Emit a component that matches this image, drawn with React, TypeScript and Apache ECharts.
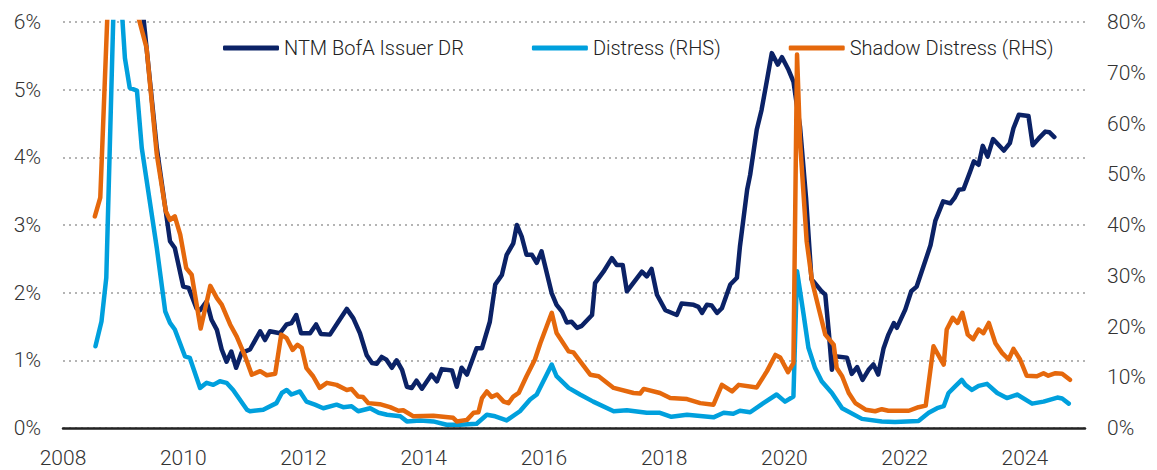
import React, { useEffect, useRef } from "react";
import * as echarts from "echarts";

// ---- Data (decimal year, value) ----
const xTickLabels = [2008, 2010, 2012, 2014, 2016, 2018, 2020, 2022, 2024];

const issuerYears = [
  2009.0, 2009.56, 2009.71, 2009.78, 2009.86, 2010.0, 2010.09, 2010.22, 2010.28, 2010.39, 2010.47, 2010.56,
  2010.64, 2010.72, 2010.8, 2010.88, 2010.97, 2011.11, 2011.28, 2011.36, 2011.44, 2011.61, 2011.72, 2011.8,
  2011.88, 2011.96, 2012.11, 2012.21, 2012.29, 2012.44, 2012.58, 2012.72, 2012.83, 2012.94, 2013.05, 2013.14,
  2013.22, 2013.3, 2013.38, 2013.47, 2013.55, 2013.64, 2013.72, 2013.8, 2013.88, 2013.97, 2014.13, 2014.22,
  2014.3, 2014.47, 2014.55, 2014.63, 2014.72, 2014.88, 2014.97, 2015.1, 2015.19, 2015.3, 2015.38, 2015.49,
  2015.55, 2015.63, 2015.71, 2015.8, 2015.88, 2015.96, 2016.13, 2016.21, 2016.3, 2016.38, 2016.46, 2016.55,
  2016.63, 2016.8, 2016.85, 2016.99, 2017.13, 2017.21, 2017.31, 2017.38, 2017.63, 2017.71, 2017.79, 2017.88,
  2018.02, 2018.21, 2018.29, 2018.49, 2018.57, 2018.63, 2018.71, 2018.79, 2018.88, 2018.96, 2019.1, 2019.21,
  2019.26, 2019.38, 2019.43, 2019.54, 2019.62, 2019.71, 2019.79, 2019.89, 2019.96, 2020.07, 2020.15, 2020.26,
  2020.36, 2020.45, 2020.48, 2020.62, 2020.68, 2020.74, 2020.79, 2020.84, 2021.04, 2021.12, 2021.21, 2021.3,
  2021.4, 2021.48, 2021.56, 2021.65, 2021.73, 2021.82, 2021.87, 2022.01, 2022.11, 2022.2, 2022.34, 2022.43,
  2022.51, 2022.64, 2022.76, 2022.83, 2022.9, 2022.98, 2023.09, 2023.15, 2023.23, 2023.3, 2023.38, 2023.47,
  2023.65, 2023.75, 2023.81, 2023.9, 2024.06, 2024.13, 2024.23, 2024.34, 2024.41, 2024.49,
];
const issuerValues = [
  9.0, 4.14, 3.2, 2.76, 2.66, 2.09, 2.07, 1.77, 1.74, 1.87, 1.6, 1.45,
  1.16, 0.98, 1.13, 0.89, 1.11, 1.16, 1.43, 1.3, 1.43, 1.4, 1.53, 1.55,
  1.67, 1.4, 1.4, 1.53, 1.39, 1.38, 1.57, 1.76, 1.62, 1.4, 1.08, 0.96,
  0.95, 1.05, 1.01, 0.89, 1.0, 0.86, 0.61, 0.59, 0.7, 0.58, 0.79, 0.69,
  0.87, 0.85, 0.61, 0.89, 0.79, 1.18, 1.18, 1.57, 2.12, 2.26, 2.56, 2.73,
  3.0, 2.83, 2.56, 2.56, 2.44, 2.61, 1.99, 1.82, 1.72, 1.56, 1.57, 1.48,
  1.51, 1.67, 2.14, 2.31, 2.51, 2.41, 2.41, 2.02, 2.31, 2.24, 2.35, 1.97,
  1.74, 1.67, 1.84, 1.82, 1.79, 1.7, 1.82, 1.81, 1.7, 1.77, 2.12, 2.22,
  2.68, 3.52, 3.74, 4.41, 4.7, 5.14, 5.54, 5.37, 5.48, 5.29, 5.12, 4.45,
  3.4, 2.2, 2.17, 2.02, 1.97, 1.4, 0.86, 1.06, 1.04, 0.8, 0.9, 0.71,
  0.86, 0.94, 0.79, 1.18, 1.38, 1.55, 1.48, 1.75, 2.02, 2.09, 2.46, 2.7,
  3.06, 3.35, 3.32, 3.4, 3.52, 3.53, 3.79, 3.94, 3.89, 4.17, 4.01, 4.27,
  4.1, 4.21, 4.43, 4.63, 4.61, 4.18, 4.28, 4.38, 4.37, 4.3,
];

const distressYears = [
  2008.54, 2008.64, 2008.72, 2008.88, 2009.03, 2009.11, 2009.23, 2009.31, 2009.56, 2009.7, 2009.78, 2009.86,
  2010.03, 2010.11, 2010.28, 2010.39, 2010.5, 2010.61, 2010.72, 2010.83, 2011.06, 2011.11, 2011.33, 2011.55,
  2011.64, 2011.72, 2011.8, 2011.94, 2012.05, 2012.19, 2012.33, 2012.55, 2012.66, 2012.8, 2012.91, 2013.11,
  2013.25, 2013.39, 2013.61, 2013.72, 2013.94, 2014.16, 2014.38, 2014.6, 2014.88, 2015.05, 2015.19, 2015.38,
  2015.6, 2015.77, 2015.88, 2016.13, 2016.21, 2016.41, 2016.6, 2016.82, 2017.16, 2017.38, 2017.71, 2017.93,
  2018.12, 2018.38, 2018.82, 2018.99, 2019.15, 2019.26, 2019.43, 2019.65, 2019.87, 2020.01, 2020.15, 2020.21,
  2020.32, 2020.4, 2020.51, 2020.62, 2020.79, 2020.96, 2021.29, 2021.62, 2021.84, 2022.23, 2022.4, 2022.54,
  2022.65, 2022.73, 2022.84, 2022.95, 2023.01, 2023.12, 2023.23, 2023.37, 2023.54, 2023.7, 2023.87, 2024.12,
  2024.31, 2024.54, 2024.62, 2024.73,
];
const distressValues = [
  16.1, 21.0, 29.6, 100, 72.9, 67.0, 66.5, 55.2, 35.5, 23.0, 20.7, 19.4,
  14.1, 13.8, 7.9, 8.9, 8.5, 9.2, 8.9, 7.5, 3.6, 3.3, 3.6, 4.9,
  6.9, 7.5, 6.6, 7.2, 5.2, 4.6, 3.9, 4.6, 4.1, 4.3, 3.3, 3.9,
  3.0, 2.6, 2.3, 1.3, 1.5, 1.3, 0.65, 0.65, 0.85, 2.6, 2.3, 1.5,
  3.3, 5.6, 6.6, 12.5, 10.2, 7.9, 6.6, 5.2, 3.3, 3.5, 3.0, 3.0,
  2.2, 2.6, 2.1, 3.0, 2.8, 3.4, 3.1, 4.9, 6.6, 5.2, 6.2, 30.9,
  22.3, 15.8, 11.8, 9.2, 6.9, 3.9, 1.8, 1.3, 1.2, 1.4, 3.0, 3.9,
  4.3, 6.9, 8.2, 9.5, 8.5, 7.5, 8.3, 8.7, 6.9, 5.9, 6.6, 4.8,
  5.2, 6.0, 5.8, 4.8,
];

const shadowYears = [
  2008.53, 2008.62, 2008.8, 2009.05, 2009.39, 2009.56, 2009.71, 2009.78, 2009.86, 2009.95, 2010.05, 2010.14,
  2010.29, 2010.45, 2010.56, 2010.64, 2010.78, 2010.89, 2011.03, 2011.14, 2011.28, 2011.39, 2011.53, 2011.63,
  2011.72, 2011.82, 2011.9, 2011.97, 2012.05, 2012.16, 2012.27, 2012.39, 2012.55, 2012.72, 2012.8, 2012.91,
  2012.99, 2013.08, 2013.27, 2013.44, 2013.58, 2013.66, 2013.83, 2014.16, 2014.49, 2014.55, 2014.72, 2014.83,
  2014.91, 2014.97, 2015.05, 2015.13, 2015.22, 2015.33, 2015.41, 2015.49, 2015.58, 2015.71, 2015.85, 2015.94,
  2016.13, 2016.21, 2016.41, 2016.49, 2016.77, 2016.91, 2017.16, 2017.49, 2017.6, 2017.66, 2017.93, 2018.1,
  2018.38, 2018.6, 2018.82, 2018.96, 2019.13, 2019.24, 2019.54, 2019.71, 2019.85, 2019.93, 2020.06, 2020.15,
  2020.21, 2020.26, 2020.37, 2020.46, 2020.57, 2020.68, 2020.82, 2020.87, 2020.96, 2021.07, 2021.18, 2021.35,
  2021.51, 2021.62, 2021.73, 2022.07, 2022.23, 2022.35, 2022.48, 2022.54, 2022.65, 2022.7, 2022.8, 2022.88,
  2022.96, 2023.05, 2023.14, 2023.23, 2023.31, 2023.4, 2023.51, 2023.62, 2023.73, 2023.81, 2023.92, 2024.03,
  2024.2, 2024.31, 2024.39, 2024.51, 2024.62, 2024.75,
];
const shadowValues = [
  41.7, 45.4, 100, 90, 74.9, 53.9, 42.7, 41.0, 41.7, 38.1, 31.5, 30.2,
  19.6, 28.0, 25.6, 24.3, 20.4, 18.0, 14.1, 10.5, 11.2, 10.4, 10.7, 18.4,
  17.7, 15.4, 16.4, 15.8, 11.8, 10.2, 7.9, 8.9, 8.5, 7.5, 7.7, 6.2,
  6.1, 4.9, 4.7, 4.1, 3.4, 3.5, 2.3, 2.4, 2.0, 1.3, 1.6, 3.0,
  3.1, 5.9, 7.2, 6.1, 6.6, 5.2, 4.9, 6.2, 6.9, 10.2, 13.5, 16.7,
  22.7, 18.7, 15.1, 14.9, 10.5, 10.2, 7.9, 6.9, 6.8, 7.7, 6.9, 5.9,
  5.7, 4.9, 4.6, 8.5, 7.2, 8.5, 8.0, 11.2, 14.4, 13.9, 11.0, 12.8,
  73.6, 56.5, 36.8, 28.9, 23.6, 18.4, 16.4, 11.8, 10.2, 6.9, 4.9, 3.6,
  3.3, 3.7, 3.4, 3.4, 4.1, 4.4, 16.1, 14.8, 12.5, 19.4, 21.7, 20.7,
  22.7, 18.4, 17.5, 19.4, 18.7, 20.7, 16.7, 14.8, 13.5, 15.6, 13.5, 10.3,
  10.2, 10.8, 10.3, 10.8, 10.7, 9.5,
];

const seriesNames = ["NTM BofA Issuer DR", "Distress (RHS)", "Shadow Distress (RHS)"];
const seriesColors = ["#0b2266", "#00a0dd", "#e5680c"];

const zip = (xs: number[], ys: number[]) => xs.map((x, i) => [x, ys[i]]);

const FONT = "Roboto";

export default function App() {
  const ref = useRef<HTMLDivElement>(null);

  useEffect(() => {
    if (!ref.current) return;
    const chart = echarts.init(ref.current, undefined, { renderer: "svg" });
    const lineSeries = (idx: number, data: number[][], yAxisIndex: number) => ({
      name: seriesNames[idx],
      type: "line",
      data,
      yAxisIndex,
      showSymbol: false,
      symbol: "none",
      clip: true,
      lineStyle: { color: seriesColors[idx], width: 4.5, cap: "round", join: "round" },
      itemStyle: { color: seriesColors[idx] },
    });
    chart.setOption({
      animation: false,
      backgroundColor: "#ffffff",
      textStyle: { fontFamily: FONT },
      grid: { left: 63, right: 72, top: 22, bottom: 42, containLabel: false },
      legend: {
        left: 218,
        top: 33,
        itemWidth: 56,
        itemHeight: 5,
        itemGap: 68,
        icon: "roundRect",
        textStyle: { fontFamily: FONT, fontSize: 20, fontWeight: 300, color: "#222" },
        data: seriesNames,
      },
      xAxis: {
        type: "value",
        min: 2008,
        max: 2025,
        interval: 2,
        axisLine: { show: true, lineStyle: { color: "#222", width: 2.5 } },
        axisTick: { show: false },
        splitLine: { show: false },
        axisLabel: {
          showMaxLabel: false,
          margin: 19,
          fontFamily: FONT,
          fontSize: 21,
          fontWeight: 300,
          color: "#333",
          formatter: (v: number) => (xTickLabels.includes(v) ? String(v) : ""),
        },
      },
      yAxis: [
        {
          type: "value",
          min: 0,
          max: 6,
          interval: 1,
          axisLine: { show: false },
          axisTick: { show: false },
          splitLine: { show: true, lineStyle: { color: "#b4b4b4", width: 2, type: [2, 4] } },
          axisLabel: {
            margin: 22,
            fontFamily: FONT,
            fontSize: 21,
            fontWeight: 300,
            color: "#333",
            formatter: (v: number) => v + "%",
          },
        },
        {
          type: "value",
          min: 0,
          max: 80,
          interval: 10,
          position: "right",
          axisLine: { show: false },
          axisTick: { show: false },
          splitLine: { show: false },
          axisLabel: {
            margin: 22,
            fontFamily: FONT,
            fontSize: 21,
            fontWeight: 300,
            color: "#333",
            formatter: (v: number) => v + "%",
          },
        },
      ],
      series: [
        lineSeries(0, zip(issuerYears, issuerValues), 0),
        lineSeries(1, zip(distressYears, distressValues), 1),
        lineSeries(2, zip(shadowYears, shadowValues), 1),
      ],
    });
    return () => chart.dispose();
  }, []);

  return (
    <div
      ref={ref}
      style={{ position: "fixed", left: 0, top: 0, width: 1157, height: 470, background: "#fff" }}
    />
  );
}
